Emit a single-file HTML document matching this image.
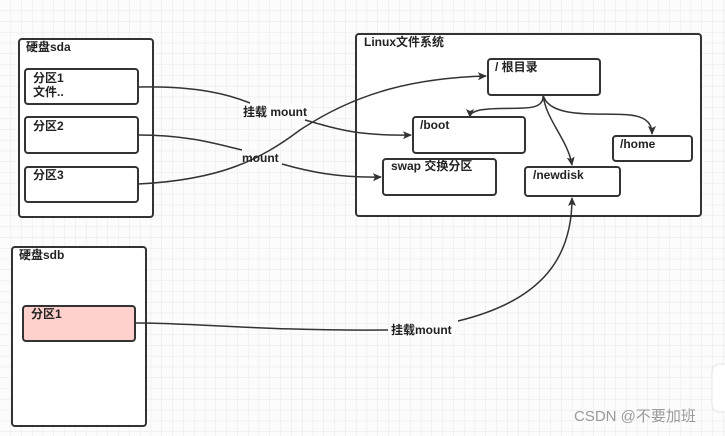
<!DOCTYPE html>
<html><head><meta charset="utf-8"><style>
html,body{margin:0;padding:0;width:725px;height:436px;overflow:hidden;background:#fbfcfb;}
svg{display:block}
text{font-family:"Liberation Sans","Noto Sans CJK SC",sans-serif;font-weight:bold;font-size:12px;fill:#222}
</style></head><body>
<svg width="725" height="436" viewBox="0 0 725 436" xmlns="http://www.w3.org/2000/svg">
<defs>
<pattern id="g" width="10.8" height="10.8" patternUnits="userSpaceOnUse">
<path d="M10.8 0V10.8H0" fill="none" stroke="#e6e9e6" stroke-width="1"/>
</pattern>
<marker id="a" markerWidth="10" markerHeight="10" refX="8" refY="4" orient="auto" markerUnits="userSpaceOnUse">
<path d="M0,0 L9,4 L0,8 L2,4 Z" fill="#333"/>
</marker>
</defs>
<rect width="725" height="436" fill="url(#g)"/>
<g fill="#fff" stroke="#333" stroke-width="2">
<rect x="19" y="39" width="134" height="178" rx="3"/>
<rect x="25" y="69" width="113" height="35" rx="3"/>
<rect x="25" y="117" width="113" height="36" rx="3"/>
<rect x="25" y="167" width="113" height="35" rx="3"/>
<rect x="356" y="34" width="345" height="182" rx="3"/>
<rect x="488" y="59" width="112" height="36" rx="3"/>
<rect x="413" y="117" width="112" height="36" rx="3"/>
<rect x="383" y="159" width="113" height="36" rx="3"/>
<rect x="525" y="167" width="95" height="29" rx="3"/>
<rect x="613" y="136" width="79" height="25" rx="3"/>
<rect x="12" y="247" width="134" height="179" rx="3"/>
<rect x="23" y="306" width="112" height="35" rx="3" fill="#ffd0cc"/>
</g>
<rect x="712" y="364" width="20" height="48" rx="8" fill="#fff" stroke="#e4e4e4"/>
<g fill="none" stroke="#333" stroke-width="1.5">
<path d="M138,87 C200,86 230,95 250,103"/>
<path d="M305,120 C340,130 360,136 411,135" marker-end="url(#a)"/>
<path d="M138,135 C190,135 220,145 242,150"/>
<path d="M282,164 C310,172 340,178 381,177" marker-end="url(#a)"/>
<path d="M138,184 C220,180 260,160 300,130 C360,90 420,78 486,76" marker-end="url(#a)"/>
<path d="M543,95 C545,115 510,105 480,110 C472,112 470,114 470,117" marker-end="url(#a)"/>
<path d="M543,95 C546,120 568,140 572,165" marker-end="url(#a)"/>
<path d="M543,95 C550,120 600,112 630,115 C648,117 652,125 652,134" marker-end="url(#a)"/>
<path d="M135,323 C200,323 260,331 388,330"/>
<path d="M458,321 C545,300 572,255 572,198" marker-end="url(#a)"/>
</g>
<rect x="241" y="104" width="70" height="15" fill="#fbfcfb"/>
<rect x="390" y="322" width="68" height="15" fill="#fbfcfb"/>
<text x="26" y="51">硬盘sda</text>
<text x="33" y="82">分区1</text>
<text x="33" y="96">文件..</text>
<text x="33" y="130">分区2</text>
<text x="33" y="179">分区3</text>
<text x="243" y="116">挂载 mount</text>
<text x="242" y="162">mount</text>
<text x="364" y="46">Linux文件系统</text>
<text x="495" y="71">/ 根目录</text>
<text x="420" y="129">/boot</text>
<text x="391" y="170">swap 交换分区</text>
<text x="533" y="179">/newdisk</text>
<text x="620" y="148">/home</text>
<text x="19" y="259">硬盘sdb</text>
<text x="31" y="318">分区1</text>
<text x="391" y="334">挂载mount</text>
<text x="574" y="421" style="font-weight:normal;font-size:15px;fill:#9a9a9a">CSDN @不要加班</text>
</svg>
</body></html>
